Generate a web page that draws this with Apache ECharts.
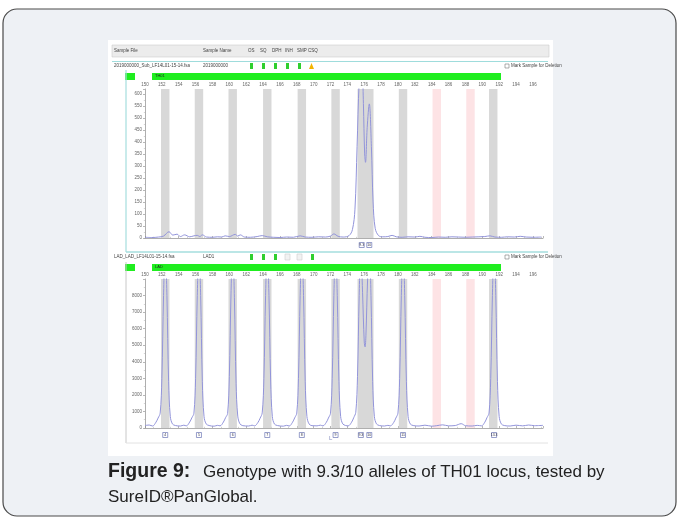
<!DOCTYPE html>
<html><head><meta charset="utf-8">
<script src="https://cdn.jsdelivr.net/npm/echarts@6/dist/echarts.min.js"></script>
<style>html,body{margin:0;padding:0;background:#fff}#c{width:680px;height:519px}</style>
</head><body><div id="c"></div>
<script>
// ---- data ----
const xTickMin = 150, xTickMax = 197.2, xTickStep = 2;
const yTopMax = 620, yTopStep = 50;
const yBotMax = 9000, yBotStep = 1000;

const binLabels  = ['4','5','6','7','8','9','9.3','10','11','12','13','13.3'];
const binCenters = [152.4,156.4,160.4,164.5,168.6,172.6,175.7,176.6,180.6,184.6,188.6,191.3];
const binVirtual = [0,0,0,0,0,0,0,0,0,1,1,0];

const sampleCalls = ['9.3','10'];
const sampleCallPos = [175.7,176.6];
const ladderCalls = ['4','5','6','7','8','9','9.3','10','11','13.3'];
const ladderCallPos = [152.4,156.4,160.4,164.5,168.6,172.6,175.6,176.6,180.6,191.4];

const sampleTrace = [[150,3],[150.8,2],[151.6,4],[152.2,8],[152.85,26],[153.3,12],[153.8,16],[154.2,6],[154.7,13],[155.3,5],[155.8,9],[156.2,11],[156.5,6],[156.8,13],[157.3,4],[158,3],[158.6,5],[159.1,4],[159.5,9],[160.0,6],[160.7,15],[161.0,8],[161.3,13],[161.8,4],[162.5,3],[163.3,6],[163.9,10],[164.5,5],[165.2,3],[166,2],[166.8,4],[167.6,3],[168.4,9],[169,4],[169.8,3],[170.6,5],[171.4,4],[172.0,8],[172.4,17],[172.9,7],[173.5,4],[174.2,10],[174.6,35],[174.9,120],[175.15,380],[175.4,650],[175.7,780],[175.9,560],[176.05,350],[176.15,315],[176.35,460],[176.6,558],[176.85,380],[177.05,150],[177.3,40],[177.7,10],[178.2,5],[178.8,6],[179.3,11],[179.8,5],[180.5,3],[181.2,5],[182,4],[182.6,7],[183.2,3],[184,2],[184.8,4],[185.6,3],[186.4,5],[187.2,4],[188,3],[188.8,4],[189.6,5],[190.3,6],[190.9,9],[191.5,4],[192.3,3],[193,5],[193.8,4],[194.5,7],[195.2,4],[196,3],[197,4]];

const ladderTrace = [[150,150],[150.5,180],[150.9,120],[151.3,350],[151.55,600],[151.8,900],[152.0,3000],[152.2,8000],[152.4,11000],[152.6,8000],[152.8,2800],[153.0,700],[153.25,250],[153.6,150],[154.2,120],[154.6,170],
[154.9,130],[155.3,360],[155.55,610],[155.8,890],[156.0,3000],[156.2,8000],[156.4,11000],[156.6,8000],[156.8,2800],[157.0,700],[157.25,250],[157.6,150],[158.2,110],[158.6,160],
[158.9,130],[159.3,360],[159.55,620],[159.8,880],[160.0,3100],[160.2,8100],[160.4,11000],[160.6,7900],[160.8,2700],[161.0,720],[161.25,260],[161.6,140],[162.3,120],[162.7,170],
[163.0,130],[163.4,340],[163.65,590],[163.9,910],[164.1,3000],[164.3,8000],[164.5,11000],[164.7,8000],[164.9,2900],[165.1,690],[165.35,240],[165.7,150],[166.4,110],[166.8,160],
[167.1,120],[167.5,350],[167.75,610],[168.0,900],[168.2,3000],[168.4,8000],[168.6,11000],[168.8,8000],[169.0,2800],[169.2,700],[169.45,250],[169.8,140],[170.4,130],[170.8,170],
[171.1,130],[171.5,340],[171.75,600],[172.0,890],[172.2,3000],[172.4,8000],[172.6,11000],[172.8,8000],[173.0,2800],[173.2,700],[173.45,250],[173.8,150],
[174.1,130],[174.5,350],[174.75,620],[175.0,950],[175.2,3100],[175.4,8000],[175.6,11000],[175.8,8200],[176.0,5200],[176.1,4900],[176.2,5600],[176.4,9000],[176.6,11000],[176.8,8000],[177.0,2800],[177.2,700],[177.45,250],[177.8,150],[178.4,120],[178.8,160],
[179.1,130],[179.5,340],[179.75,600],[180.0,900],[180.2,3000],[180.4,8000],[180.6,11000],[180.8,8000],[181.0,2800],[181.2,700],[181.45,250],[181.8,150],
[182.5,120],[183.2,170],[184.0,110],[184.6,140],[185.3,190],[186.0,130],[186.8,150],[187.5,260],[188.0,140],[188.8,120],[189.4,160],
[189.9,130],[190.3,350],[190.55,620],[190.8,900],[191.0,3000],[191.2,8000],[191.4,11000],[191.6,8000],[191.8,2800],[192.0,700],[192.25,250],[192.6,150],
[193.3,120],[194.0,170],[194.8,130],[195.5,180],[196.2,140],[197.2,160]];

// ---- helpers ----
const binAreas = binCenters.map((c,i)=>[
  {xAxis:c-0.5, itemStyle:{color: binVirtual[i] ? '#fde3e5' : '#d8d8d8'}},
  {xAxis:c+0.5}
]);
function calls(names,pos,off){
  return names.map((n,i)=>({name:n, coord:[pos[i],0], symbolOffset:[0,off]}));
}
const axisFont = {fontSize:4.5, color:'#666', fontFamily:'Liberation Sans'};
function xAx(gi){
  return {gridIndex:gi,type:'value',min:xTickMin,max:xTickMax,interval:xTickStep,position:'top',
    axisLine:{lineStyle:{color:'#999',width:0.8}},
    axisTick:{length:2,lineStyle:{color:'#888',width:0.6}},
    minorTick:{show:true,splitNumber:2,length:1.2,lineStyle:{color:'#aaa',width:0.5}},
    axisLabel:Object.assign({margin:2,showMaxLabel:false},axisFont),splitLine:{show:false}};
}
function yAx(gi,max,step){
  return {gridIndex:gi,type:'value',min:0,max:max,interval:step,
    axisLine:{show:true,lineStyle:{color:'#999',width:0.8}},
    axisTick:{show:true,length:2,lineStyle:{color:'#888',width:0.6}},
    minorTick:{show:true,splitNumber:2,length:1.2,lineStyle:{color:'#aaa',width:0.5}},
    axisLabel:Object.assign({margin:3,showMaxLabel:false,formatter:v=>String(v)},axisFont),splitLine:{show:false}};
}
function traceSeries(gi,data,callNames,callPos){
  return {type:'line',xAxisIndex:gi,yAxisIndex:gi,data:data,showSymbol:false,smooth:0.35,
    clip:true,animation:false,
    lineStyle:{color:'#9294da',width:1},
    markArea:{silent:true,data:binAreas},
    markPoint:{symbol:'rect',symbolSize:[5,5],silent:true,
      itemStyle:{color:'#fff',borderColor:'#6b76b4',borderWidth:0.7},
      label:{show:true,formatter:'{b}',fontSize:3.5,color:'#334',position:'inside'},
      data:calls(callNames,callPos,7)}
  };
}

// ---- chrome (static interface decoration) ----
const g = [];
const T = (x,y,t,o)=>g.push(Object.assign({type:'text',x:x,y:y,style:Object.assign({text:t,fontSize:4.5,fill:'#444',fontFamily:'Liberation Sans',textVerticalAlign:'middle'},o||{})}));
const R = (x,y,w,h,fill,stroke,extra)=>g.push(Object.assign({type:'rect',shape:{x:x,y:y,width:w,height:h},style:{fill:fill,stroke:stroke||null,lineWidth:0.6}},extra||{}));
const L = (x1,y1,x2,y2,col,w)=>g.push({type:'line',shape:{x1:x1,y1:y1,x2:x2,y2:y2},style:{stroke:col,lineWidth:w||1}});

g.push({type:'rect',shape:{x:3,y:9,width:673,height:507,r:14},style:{fill:'#eef1f5',stroke:'#4a4a4a',lineWidth:1.2}});
R(108,40,445,416,'#ffffff');
// header row
R(112,45,437,12,'#ececec','#cfcfcf');
T(114,51,'Sample File'); T(203,51,'Sample Name');
[['OS',248],['SQ',260],['DPH',272],['INH',285],['SMP',297],['CSQ',308]].forEach(a=>T(a[1],51,a[0]));
L(112,61.5,548,61.5,'#9fdcdc',1.2);
// sample row
T(114,66,'2019000000_Sub_LF14L01-15-14.fsa'); T(203,66,'2019000000');
[250,262,274,286,298].forEach(x=>R(x,63,3,6,'#2fcf2f'));
g.push({type:'polygon',shape:{points:[[309,69],[311.5,63],[314,69]]},style:{fill:'#f3b400'}});
R(505,64,4,4,'#fff','#777'); T(511,66,'Mark Sample for Deletion');
R(125,73,10,7,'#1fee1f'); R(152,73,349,7,'#1fee1f'); T(155,75.5,'TH01',{fill:'#222',fontSize:4});
L(126,70,126,252,'#a5dede',1.2);
L(126,252,548,252,'#a5dede',1.5);
// ladder row
T(114,257,'LAD_LAD_LF14L01-15-14.fsa'); T(203,257,'LAD1');
[250,262,274,311].forEach(x=>R(x,254,3,6,'#2fcf2f'));
R(285,254,5,6,'#f2f2f2','#ccc'); R(297,254,5,6,'#f2f2f2','#ccc');
R(505,255,4,4,'#fff','#777'); T(511,257,'Mark Sample for Deletion');
R(125,264,10,7,'#1fee1f'); R(152,264,349,7,'#1fee1f'); T(155,266.5,'LAD',{fill:'#222',fontSize:4});
L(126,262,126,443,'#c8c8c8',1);
L(126,443,548,443,'#e2e2e2',1);
T(329,438,'L',{fill:'#8890c0',fontSize:6});
// caption
g.push({type:'text',x:108,y:472,style:{rich:{b:{fontWeight:'bold',fontSize:19.5,fill:'#222',fontFamily:'Liberation Sans',width:95},n:{fontSize:17,fill:'#222',fontFamily:'Liberation Sans'}},text:'{b|Figure 9:}{n|Genotype with 9.3/10 alleles of TH01 locus, tested by}',textVerticalAlign:'middle'}});
g.push({type:'text',x:108,y:497,style:{text:'SureID®PanGlobal.',fontSize:17,fill:'#222',fontFamily:'Liberation Sans',textVerticalAlign:'middle'}});

const chart = echarts.init(document.getElementById('c'),null,{renderer:'canvas'});
chart.setOption({
  animation:false,
  backgroundColor:'#ffffff',
  graphic:{elements:g},
  grid:[
    {left:145,top:89,width:398,height:149,show:true,borderColor:'#aaa',borderWidth:0.8,backgroundColor:'transparent'},
    {left:145,top:279,width:398,height:149,show:true,borderColor:'#aaa',borderWidth:0.8,backgroundColor:'transparent'}
  ],
  xAxis:[xAx(0),xAx(1)],
  yAxis:[yAx(0,yTopMax,yTopStep),yAx(1,yBotMax,yBotStep)],
  series:[traceSeries(0,sampleTrace,sampleCalls,sampleCallPos),traceSeries(1,ladderTrace,ladderCalls,ladderCallPos)]
});
</script></body></html>
